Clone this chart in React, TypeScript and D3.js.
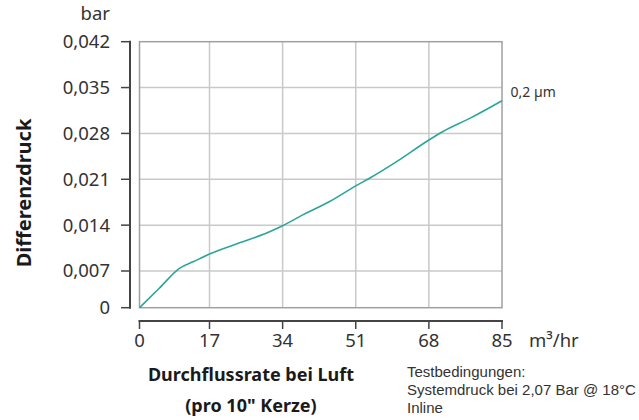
import React from "react";
import * as d3 from "d3";

const flowRate = [0, 4.8, 9.7, 13, 17, 24, 30.3, 34, 38.8, 44.9, 51, 54.3, 60.5, 68, 71.3, 77.5, 85];
const pressure = [0, 0.0037, 0.0074, 0.0084, 0.0096, 0.0113, 0.0128, 0.0139, 0.0156, 0.0176, 0.02, 0.0212, 0.0237, 0.027, 0.0283, 0.0303, 0.033];
const xTicks = [0, 17, 34, 51, 68, 85];
const yTicks = [0, 0.007, 0.014, 0.021, 0.028, 0.035, 0.042];
const testLines = ["Testbedingungen:", "Systemdruck bei 2,07 Bar @ 18°C", "Inline"];

const W = 639;
const H = 420;
const font = "'Noto Sans', sans-serif";
const textColor = "#333";

export default function App() {
  // the original axis squeezes the first interval a little, so polylinear scales
  const x = d3.scaleLinear().domain([0, 17, 85]).range([139.5, 209.5, 502]);
  const y = d3.scaleLinear().domain([0, 0.007, 0.042]).range([307.7, 271, 41.7]);

  const line = d3
    .line<number>()
    .x((_, i) => x(flowRate[i]))
    .y((d) => y(d))
    .curve(d3.curveMonotoneX);

  const fmt = (v: number) => (v === 0 ? "0" : v.toFixed(3).replace(".", ","));
  const yAxisX = 130;
  const xAxisY = 321;

  return (
    <svg width={W} height={H} style={{ position: "absolute", left: 0, top: 0 }} fontFamily={font}>
      {/* grid */}
      {xTicks.slice(1, -1).map((t) => (
        <line key={"gx" + t} x1={x(t)} x2={x(t)} y1={y(0.042)} y2={y(0)} stroke="#c9c9c9" strokeWidth={1.5} />
      ))}
      {yTicks.slice(1, -1).map((t) => (
        <line key={"gy" + t} x1={x(0)} x2={x(85)} y1={y(t)} y2={y(t)} stroke="#c9c9c9" strokeWidth={1.5} />
      ))}
      <rect x={x(0)} y={y(0.042)} width={x(85) - x(0)} height={y(0) - y(0.042)} fill="none" stroke="#a0a0a0" strokeWidth={1.5} />

      {/* curve */}
      <path d={line(pressure) || ""} fill="none" stroke="#2ba59b" strokeWidth={1.6} />
      <text x={510.5} y={97} fontSize={14} fill={textColor}>0,2 µm</text>

      {/* y axis */}
      <line x1={yAxisX} x2={yAxisX} y1={y(0.042) - 1} y2={y(0) + 1} stroke="#444" strokeWidth={2} />
      {yTicks.map((t) => (
        <g key={"yt" + t}>
          <line x1={121} x2={yAxisX} y1={y(t)} y2={y(t)} stroke="#444" strokeWidth={1.5} />
          <text x={110} y={y(t)} dy="0.35em" textAnchor="end" fontSize={18.5} fill={textColor}>
            {fmt(t)}
          </text>
        </g>
      ))}
      <text x={110} y={20} textAnchor="end" fontSize={18.5} fill={textColor}>bar</text>
      <text
        transform={`translate(31,${193}) rotate(-90)`}
        textAnchor="middle"
        fontSize={20}
        fontWeight="bold"
        fill="#1a1a1a"
      >
        Differenzdruck
      </text>

      {/* x axis */}
      <line x1={x(0) - 1} x2={x(85) + 1} y1={xAxisY} y2={xAxisY} stroke="#444" strokeWidth={2} />
      {xTicks.map((t) => (
        <g key={"xt" + t}>
          <line x1={x(t)} x2={x(t)} y1={xAxisY} y2={329} stroke="#444" strokeWidth={1.5} />
          <text x={x(t)} y={347} textAnchor="middle" fontSize={18.5} fill={textColor}>
            {t}
          </text>
        </g>
      ))}
      <text x={529} y={347} fontSize={18.5} fill={textColor}>
        m³/hr
      </text>
      <text x={251} y={381} textAnchor="middle" fontSize={18} fontWeight="bold" fill="#1a1a1a">
        Durchflussrate bei Luft
      </text>
      <text x={251} y={412} textAnchor="middle" fontSize={18} fontWeight="bold" fill="#1a1a1a">
        (pro 10" Kerze)
      </text>

      {testLines.map((s, i) => (
        <text key={s} x={407} y={377 + i * 18.2} fontSize={15} fontFamily="'Liberation Sans', sans-serif" fill={textColor}>
          {s}
        </text>
      ))}
    </svg>
  );
}
